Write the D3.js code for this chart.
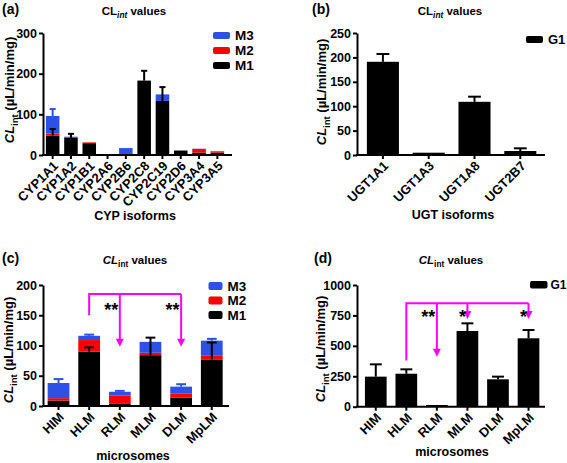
<!DOCTYPE html>
<html><head><meta charset="utf-8">
<script src="https://cdn.jsdelivr.net/npm/d3@7"></script>
<style>
body{margin:0;background:#fff}
svg{display:block}
text{font-family:Arial,"Liberation Sans",sans-serif;font-weight:bold;fill:#000}
</style>
</head><body>
<svg id="chart" width="567" height="463"></svg>
<script>
// ---------- data ----------
const cypIsoforms = ["CYP1A1","CYP1A2","CYP1B1","CYP2A6","CYP2B6","CYP2C8","CYP2C19","CYP2D6","CYP3A4","CYP3A5"];
const cypM1 = [48, 42, 29, 0.8, 1, 183, 133, 11, 6, 6];
const cypM2 = [5, 0, 2, 0, 0, 0, 0, 0, 9, 2.5];
const cypM3 = [43, 3, 0, 0, 16, 0, 16, 0, 0.5, 1.5];
const cypM1Err = [16, 10, 0, 0, 0, 24, 34, 0, 0, 0];
const cypM3Err = [17, 0, 0, 0, 0, 0, 0, 0, 0, 0];
const cypTicks = [0, 100, 200, 300];

const ugtIsoforms = ["UGT1A1","UGT1A3","UGT1A8","UGT2B7"];
const ugtG1 = [191, 4.7, 109, 8.2];
const ugtG1Err = [16, 0, 10.5, 5.5];
const ugtTicks = [0, 50, 100, 150, 200, 250];

const microsomes = ["HIM","HLM","RLM","MLM","DLM","MpLM"];
const msM1 = [9, 90, 3.5, 84, 14, 77];
const msM2 = [4, 19, 13.5, 4, 7, 6];
const msM3 = [25, 7, 6.5, 18, 11, 25];
const msM1Err = [0, 7, 0, 29, 0, 28];
const msM3Err = [6.5, 2, 1.5, 0, 4, 3];
const msTicks = [0, 50, 100, 150, 200];

const msG1 = [247, 271, 14, 622, 225, 562];
const msG1Err = [101, 36, 0, 63, 22, 68];
const msG1Ticks = [0, 250, 500, 750, 1000];

const sigCTargets = ["RLM","DLM"];
const sigCMarks = ["**","**"];
const sigDTargets = ["RLM","MLM","MpLM"];
const sigDMarks = ["**","*","*"];

// ---------- drawing ----------
const BLUE = "#2d50e6", RED = "#ff0000", BLACK = "#000000", MAGENTA = "#ff00ff";
const svg = d3.select("#chart");

function addCL(sel, italicCL, size) {
  sel.append("tspan").text("CL").attr("font-style", italicCL ? "italic" : "normal");
  sel.append("tspan").text("int").attr("font-size", size * 0.72).attr("dy", size * 0.28)
     .attr("font-style", italicCL ? "normal" : "italic");
}

function panel(o) {
  const g = svg.append("g");
  const x = d3.scaleBand().domain(o.cats).range(o.xr).paddingInner(o.pad).paddingOuter(o.pad / 2);
  const y = d3.scaleLinear().domain([0, o.ymax]).range([o.y0, o.y1]);

  const rows = o.cats.map((c, i) => {
    const r = {cat: c};
    o.series.forEach(s => r[s.name] = s.values[i]);
    return r;
  });
  const stacked = d3.stack().keys(o.series.map(s => s.name))(rows);

  stacked.forEach((layer, li) => {
    const s = o.series[li];
    g.append("g").selectAll("rect").data(layer).join("rect")
      .attr("x", (d, i) => x(o.cats[i]))
      .attr("width", x.bandwidth())
      .attr("y", d => y(d[1]))
      .attr("height", d => Math.max(0, y(d[0]) - y(d[1])))
      .attr("fill", s.color);
  });

  // error bars
  const capW = x.bandwidth() * o.cap;
  stacked.forEach((layer, li) => {
    const s = o.series[li];
    if (!s.err) return;
    layer.forEach((d, i) => {
      const e = s.err[i];
      if (!e) return;
      const cx = x(o.cats[i]) + x.bandwidth() / 2;
      const col = s.errColor || "#000";
      g.append("line").attr("x1", cx).attr("x2", cx).attr("y1", y(d[1])).attr("y2", y(d[1] + e))
        .attr("stroke", col).attr("stroke-width", 2);
      g.append("line").attr("x1", cx - capW / 2).attr("x2", cx + capW / 2)
        .attr("y1", y(d[1] + e)).attr("y2", y(d[1] + e))
        .attr("stroke", col).attr("stroke-width", 2);
    });
  });

  // y axis
  const ya = g.append("g").attr("transform", `translate(${o.yaxisX},0)`)
    .call(d3.axisLeft(y).tickValues(o.ticks).tickSize(4).tickSizeOuter(0).tickPadding(2).tickFormat(d3.format("d")));
  ya.select(".domain").attr("stroke-width", 2);
  ya.selectAll(".tick line").attr("stroke-width", 2);
  ya.selectAll("text").attr("font-size", 12.5).attr("font-family", null);

  // x axis
  const xa = g.append("g").attr("transform", `translate(0,${o.y0})`)
    .call(d3.axisBottom(x).tickSize(4).tickSizeOuter(0));
  xa.select(".domain").remove();
  xa.append("line").attr("x1", o.yaxisX - 1).attr("x2", o.xend).attr("y1", 0).attr("y2", 0)
    .attr("stroke", "#000").attr("stroke-width", 2);
  xa.selectAll(".tick line").attr("stroke-width", 2);
  xa.selectAll(".tick text").attr("font-size", o.tickFont).attr("font-family", null)
    .attr("x", 0).attr("y", 0).attr("dy", "0.35em").attr("text-anchor", "end")
    .attr("transform", "translate(3,8.5) rotate(-45)");

  // titles
  const t = g.append("text").attr("x", o.titleX).attr("y", o.titleY).attr("text-anchor", "middle").attr("font-size", 11.5);
  addCL(t, o.italicCL, 11.5);
  t.append("tspan").text(" values").attr("dy", -11.5 * 0.28);

  g.append("text").attr("x", o.labX).attr("y", o.titleY - 1).attr("font-size", 14).text(o.label);

  const yt = g.append("text").attr("transform", `translate(${o.ytX},${o.ytY}) rotate(-90)`)
    .attr("text-anchor", "middle").attr("font-size", 13);
  yt.append("tspan").text("CL").attr("font-style", "italic");
  yt.append("tspan").text("int").attr("font-size", 9.5).attr("dy", 3.5);
  yt.append("tspan").text(" (µL/min/mg)").attr("dy", -3.5);

  g.append("text").attr("x", o.xtX).attr("y", o.xtY).attr("text-anchor", "middle").attr("font-size", 12.5).text(o.xtitle);

  // legend
  o.series.slice().reverse().forEach((s, i) => {
    const cy = o.legY + i * o.legStep;
    g.append("rect").attr("x", o.legX).attr("y", cy - o.legH / 2).attr("width", o.legW).attr("height", o.legH)
      .attr("rx", 2).attr("fill", s.color);
    g.append("text").attr("x", o.legX + o.legW + o.legGap).attr("y", cy).attr("dy", "0.36em")
      .attr("font-size", o.legFont).text(s.name);
  });

  return {g, x, y};
}

const A = panel({
  cats: cypIsoforms, xr: [43.5, 226.5], pad: 0.26, ymax: 300, y0: 155, y1: 33, yaxisX: 43, xend: 232,
  ticks: cypTicks, cap: 0.45, tickFont: 13,
  series: [
    {name: "M1", values: cypM1, color: BLACK, err: cypM1Err},
    {name: "M2", values: cypM2, color: RED},
    {name: "M3", values: cypM3, color: BLUE, err: cypM3Err, errColor: BLUE}
  ],
  italicCL: false, titleX: 134, titleY: 15, label: "(a)", labX: 2,
  ytX: 14, ytY: 90, xtX: 135, xtY: 220, xtitle: "CYP isoforms",
  legX: 213, legY: 35.5, legStep: 15, legW: 17, legH: 7, legGap: 5, legFont: 13.5
});

const B = panel({
  cats: ugtIsoforms, xr: [360, 543.2], pad: 0.30, ymax: 250, y0: 155, y1: 33, yaxisX: 357, xend: 545,
  ticks: ugtTicks, cap: 0.4, tickFont: 13,
  series: [{name: "G1", values: ugtG1, color: BLACK, err: ugtG1Err}],
  italicCL: false, titleX: 450, titleY: 15, label: "(b)", labX: 312,
  ytX: 326, ytY: 92, xtX: 453, xtY: 219, xtitle: "UGT isoforms",
  legX: 526, legY: 39.5, legStep: 15, legW: 17, legH: 7, legGap: 5, legFont: 13
});

const C = panel({
  cats: microsomes, xr: [43.2, 227.1], pad: 0.29, ymax: 200, y0: 406, y1: 285, yaxisX: 43, xend: 229,
  ticks: msTicks, cap: 0.45, tickFont: 13,
  series: [
    {name: "M1", values: msM1, color: BLACK, err: msM1Err},
    {name: "M2", values: msM2, color: RED},
    {name: "M3", values: msM3, color: BLUE, err: msM3Err, errColor: BLUE}
  ],
  italicCL: true, titleX: 135, titleY: 264, label: "(c)", labX: 2,
  ytX: 13, ytY: 350, xtX: 133, xtY: 460, xtitle: "microsomes",
  legX: 208.5, legY: 286, legStep: 14.5, legW: 14, legH: 8, legGap: 5, legFont: 13.5
});

const D = panel({
  cats: microsomes, xr: [360.5, 543.8], pad: 0.29, ymax: 1000, y0: 406.7, y1: 285, yaxisX: 357, xend: 545,
  ticks: msG1Ticks, cap: 0.55, tickFont: 13,
  series: [{name: "G1", values: msG1, color: BLACK, err: msG1Err}],
  italicCL: true, titleX: 451, titleY: 264, label: "(d)", labX: 314,
  ytX: 325, ytY: 349, xtX: 452, xtY: 456, xtitle: "microsomes",
  legX: 530, legY: 284.7, legStep: 15, legW: 17.5, legH: 7.5, legGap: 3, legFont: 12
});

// significance brackets
function bracket(P, fromCat, fromVal, barVal, targets, tipVals, marks, labOff) {
  const cx = c => P.x(c) + P.x.bandwidth() / 2;
  const g = P.g.append("g");
  const x0 = cx(fromCat), x1 = cx(targets[targets.length - 1]);
  const yb = P.y(barVal);
  g.append("path").attr("d", `M${x0},${P.y(fromVal)}V${yb}H${x1}`)
    .attr("fill", "none").attr("stroke", MAGENTA).attr("stroke-width", 2);
  targets.forEach((t, i) => {
    const xt = cx(t), yt = P.y(tipVals[i]);
    g.append("line").attr("x1", xt).attr("x2", xt).attr("y1", yb).attr("y2", yt - 7)
      .attr("stroke", MAGENTA).attr("stroke-width", 2);
    g.append("path").attr("d", `M${xt - 4},${yt - 8}L${xt + 4},${yt - 8}L${xt},${yt}Z`).attr("fill", MAGENTA);
    g.append("text").attr("x", xt - 1.5).attr("y", yb + labOff).attr("text-anchor", "end")
      .attr("font-size", 18).text(marks[i]);
  });
}
bracket(C, "HLM", 150, 185, sigCTargets, [98, 98], sigCMarks, 22);
bracket(D, "HLM", 380, 850, sigDTargets, [410, 720, 720], sigDMarks, 20);
</script>
</body></html>
